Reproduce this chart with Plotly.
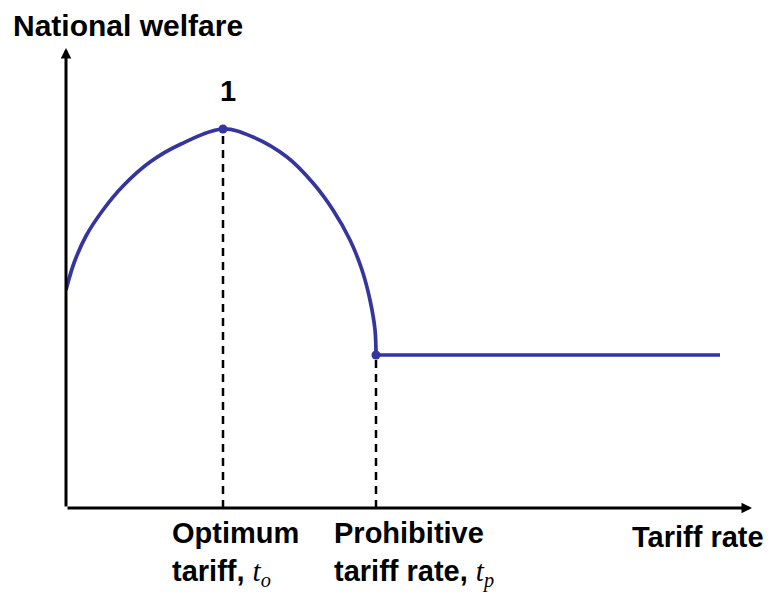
import plotly.graph_objects as go

# Welfare curve (arbitrary units)
arc_x = [0, 8, 20, 37, 57, 84, 115, 157, 187, 221, 247, 267, 284, 296, 304, 309, 310]
arc_y = [218, 245, 272, 298, 322, 346, 364, 379, 371, 351, 325, 298, 268, 238, 208, 178, 153]
flat_x = [310, 654]
flat_y = [153, 153]

opt_x, opt_y = 157, 379      # optimum tariff point "1"
pro_x, pro_y = 310, 153      # prohibitive tariff point
x_max, y_max = 686, 460

BLUE = "#3535A0"
FONT = "Liberation Sans, Arial, sans-serif"

fig = go.Figure()

# dashed verticals
for xv, yv in [(opt_x, opt_y), (pro_x, pro_y)]:
    fig.add_trace(go.Scatter(x=[xv, xv], y=[0, yv], mode="lines",
                             line=dict(color="black", width=2.5, dash="8px,6px"),
                             hoverinfo="skip", showlegend=False))

fig.add_trace(go.Scatter(x=arc_x, y=arc_y, mode="lines",
                         line=dict(color=BLUE, width=3.7, shape="spline", smoothing=1.0),
                         showlegend=False, cliponaxis=False))
fig.add_trace(go.Scatter(x=flat_x, y=flat_y, mode="lines",
                         line=dict(color=BLUE, width=3.7),
                         showlegend=False, cliponaxis=False))
fig.add_trace(go.Scatter(x=[opt_x, pro_x], y=[opt_y, pro_y], mode="markers",
                         marker=dict(color=BLUE, size=9),
                         showlegend=False, cliponaxis=False))

# axes as arrows
fig.add_annotation(x=x_max, y=0, ax=0, ay=0, xref="x", yref="y", axref="x", ayref="y",
                   showarrow=True, arrowhead=2, arrowsize=0.7, arrowwidth=3,
                   arrowcolor="black", text="")
fig.add_annotation(x=0, y=y_max, ax=0, ay=0, xref="x", yref="y", axref="x", ayref="y",
                   showarrow=True, arrowhead=2, arrowsize=0.7, arrowwidth=3,
                   arrowcolor="black", text="")

tfont = dict(family=FONT, size=29, color="black")
ital = "<span style='font-family:Liberation Serif, Times New Roman, serif'><i>t</i><sub><i>%s</i></sub></span>"

fig.add_annotation(x=0, y=1.0, xref="paper", yref="paper", xshift=-55, yshift=4,
                   xanchor="left", yanchor="bottom", text="<b>National welfare</b>",
                   showarrow=False, font=dict(family=FONT, size=30, color="black"))
fig.add_annotation(x=opt_x + 5, y=opt_y, xref="x", yref="y", yshift=20, yanchor="bottom",
                   text="<b>1</b>", showarrow=False, font=tfont)
fig.add_annotation(x=opt_x - 53, y=0, xref="x", yref="y", yshift=-7, xanchor="left",
                   yanchor="top", align="left",
                   text="<b>Optimum</b><br><b>tariff, </b>" + ital % "o",
                   showarrow=False, font=tfont)
fig.add_annotation(x=pro_x - 44, y=0, xref="x", yref="y", yshift=-7, xanchor="left",
                   yanchor="top", align="left",
                   text="<b>Prohibitive</b><br><b>tariff rate, </b>" + ital % "p",
                   showarrow=False, font=tfont)
fig.add_annotation(x=1.0, y=0, xref="paper", yref="paper", xshift=14, yshift=-11,
                   xanchor="right", yanchor="top", text="<b>Tariff rate</b>",
                   showarrow=False, font=tfont)

fig.update_xaxes(range=[0, x_max], visible=False, fixedrange=True)
fig.update_yaxes(range=[0, y_max], visible=False, fixedrange=True)
# page body has an 8px margin, so the figure is drawn 8px smaller
fig.update_layout(width=763, height=588, margin=dict(l=58, r=19, t=40, b=88),
                  plot_bgcolor="white", paper_bgcolor="white", showlegend=False)

fig.write_html("out.html")
